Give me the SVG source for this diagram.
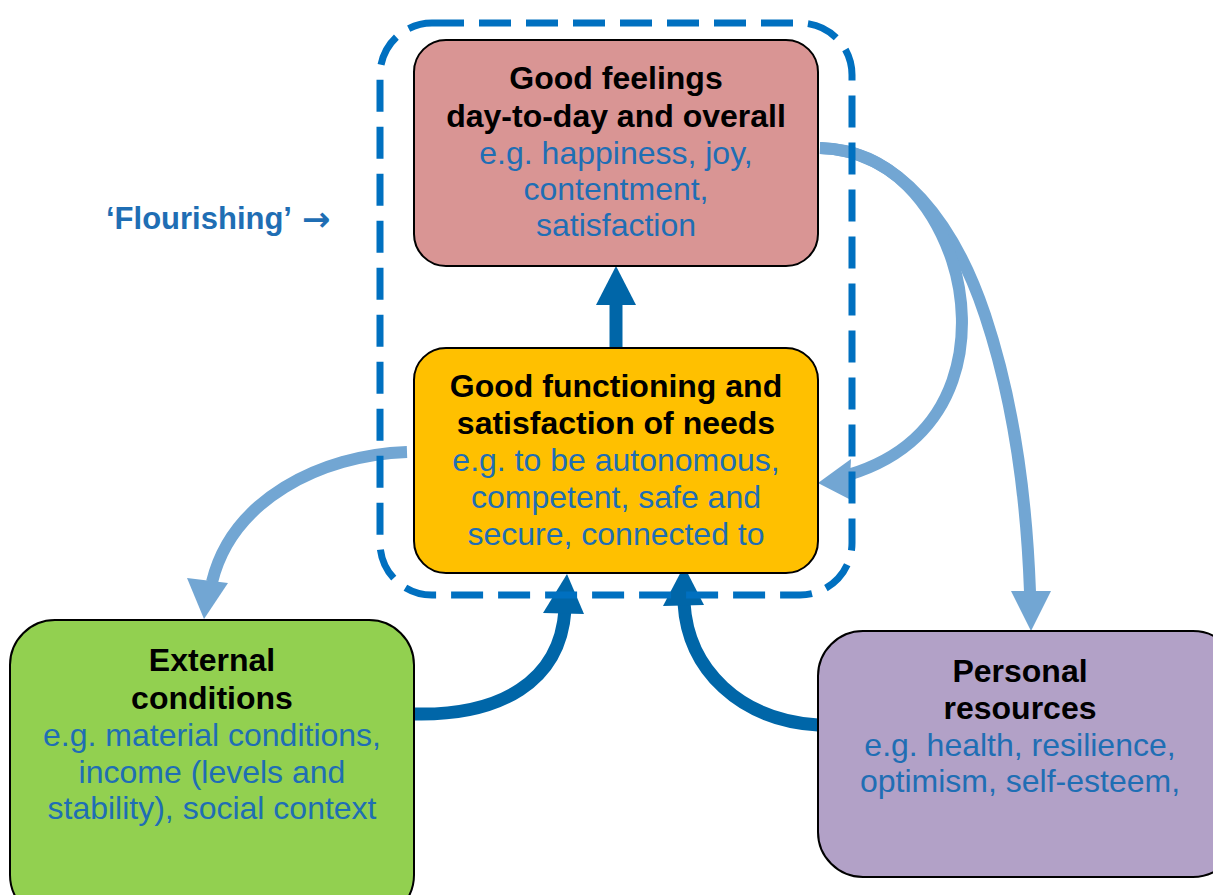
<svg xmlns="http://www.w3.org/2000/svg" width="1213" height="895" viewBox="0 0 1213 895">
<defs>
<style>
.box{stroke:#000;stroke-width:2}
.t{font-family:"Liberation Sans",Arial,sans-serif;font-size:32px;text-anchor:middle}
.b{font-weight:bold;fill:#000}
.e{fill:#1F6EB4}
.lb{fill:none;stroke:#72A6D3;stroke-width:12}
.db{fill:none;stroke:#0066A8;stroke-width:13}
</style>
</defs>
<rect width="1213" height="895" fill="#fff"/>
<g id="connectors">
<path class="lb" d="M820,148 C900,150 955,225 985,315 C1010,390 1026,480 1030,592"/>
<polygon points="1031,631 1011,591 1051,591" fill="#72A6D3"/>
<path class="lb" d="M820,148 C895,150 935,210 952,260 C975,330 965,440 848,475"/>
<polygon points="818,483 851,459 849,499" fill="#72A6D3"/>
<path class="lb" d="M407,452 C320,455 232,500 212,582"/>
<polygon points="204,619 187,578 228,583" fill="#72A6D3"/>
<path class="db" d="M414,714 C500,716 560,682 565,610"/>
<polygon points="567,574 543,613 584,614" fill="#0066A8"/>
<path class="db" d="M818,725 C740,720 688,670 684,603"/>
<polygon points="684,566 663,606 704,605" fill="#0066A8"/>
<line x1="616" y1="348" x2="616" y2="300" stroke="#0066A8" stroke-width="13"/>
<polygon points="616,266 596,305 636,305" fill="#0066A8"/>
</g>
<g id="flourishing-border">
<rect x="380" y="23" width="472" height="572" rx="52" fill="none" stroke="#0070C0" stroke-width="7" stroke-dasharray="32 15"/>
</g>
<g id="flourishing-label">
<text x="106" y="229" font-family="Liberation Sans, Arial, sans-serif" font-weight="bold" font-size="31" fill="#1F6EB4">‘Flourishing’</text>
<text x="302" y="231" font-family="DejaVu Sans, sans-serif" font-weight="bold" font-size="34" fill="#1F6EB4">→</text>
</g>
<g id="good-feelings">
<rect class="box" x="414" y="40" width="404" height="226" rx="32" fill="#D99594"/>
<text class="t b" x="616" y="89">Good feelings</text>
<text class="t b" x="616" y="127">day-to-day and overall</text>
<text class="t e" x="616" y="164">e.g. happiness, joy,</text>
<text class="t e" x="616" y="200">contentment,</text>
<text class="t e" x="616" y="236">satisfaction</text>
</g>
<g id="good-functioning">
<rect class="box" x="414" y="348" width="404" height="225" rx="32" fill="#FFC000"/>
<text class="t b" x="616" y="397">Good functioning and</text>
<text class="t b" x="616" y="434">satisfaction of needs</text>
<text class="t e" x="616" y="471">e.g. to be autonomous,</text>
<text class="t e" x="616" y="508">competent, safe and</text>
<text class="t e" x="616" y="545">secure, connected to</text>
</g>
<g id="external-conditions">
<rect class="box" x="10" y="620" width="404" height="300" rx="45" fill="#92D050"/>
<text class="t b" x="212" y="671">External</text>
<text class="t b" x="212" y="709">conditions</text>
<text class="t e" x="212" y="746">e.g. material conditions,</text>
<text class="t e" x="212" y="783">income (levels and</text>
<text class="t e" x="212" y="819">stability), social context</text>
</g>
<g id="personal-resources">
<rect class="box" x="818" y="631" width="420" height="246" rx="45" fill="#B2A1C7"/>
<text class="t b" x="1020" y="682">Personal</text>
<text class="t b" x="1020" y="719">resources</text>
<text class="t e" x="1020" y="756">e.g. health, resilience,</text>
<text class="t e" x="1020" y="792">optimism, self-esteem,</text>
</g>
</svg>
